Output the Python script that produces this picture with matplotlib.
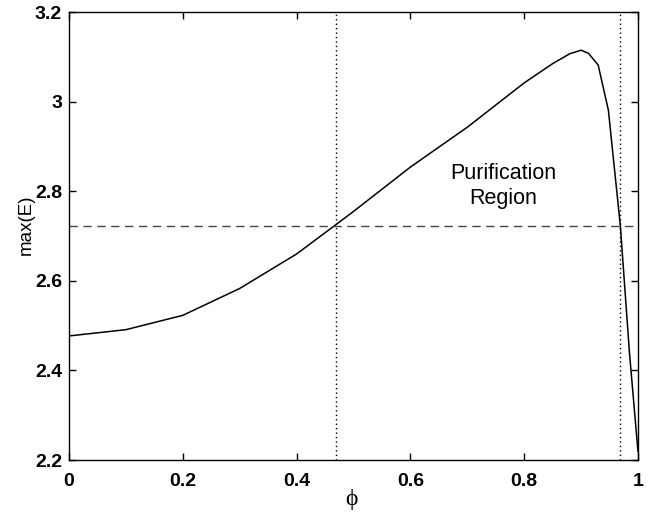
import numpy as np
import matplotlib
matplotlib.use("Agg")
import matplotlib.pyplot as plt

# --- DATA ---
phi = [0.0, 0.1, 0.2, 0.3, 0.4, 0.476, 0.5, 0.6, 0.7, 0.8, 0.85, 0.88,
       0.9, 0.913, 0.93, 0.948, 0.969, 0.985, 1.0]
max_e = [2.477, 2.491, 2.523, 2.583, 2.660, 2.732, 2.755, 2.854, 2.943, 3.042,
         3.085, 3.107, 3.115, 3.108, 3.082, 2.981, 2.723, 2.440, 2.219]

threshold = 2.723           # dashed horizontal line
region_bounds = [0.47, 0.968]  # dotted vertical lines

x_ticks = [0, 0.2, 0.4, 0.6, 0.8, 1]
x_labels = ["0", "0.2", "0.4", "0.6", "0.8", "1"]
y_ticks = [2.2, 2.4, 2.6, 2.8, 3.0, 3.2]
y_labels = ["2.2", "2.4", "2.6", "2.8", "3", "3.2"]

plt.rcParams['font.family'] = ['Liberation Sans', 'DejaVu Sans']

fig = plt.figure(figsize=(6.54, 5.16), dpi=100)
ax = fig.add_axes([0.1055, 0.1085, 0.87, 0.868])

ax.plot(phi, max_e, color='black', linewidth=1.1)
ax.axhline(threshold, color='#444444', linestyle=(0, (6, 4)), linewidth=1.0)
for xb in region_bounds:
    ax.axvline(xb, color='black', linestyle=(0, (1, 2.2)), linewidth=1.0)

ax.text(0.763, 2.812, "Purification\nRegion", ha='center', va='center',
        fontsize=15.5, linespacing=1.2)

ax.set_xlim(0, 1)
ax.set_ylim(2.2, 3.2)
ax.set_xticks(x_ticks)
ax.set_xticklabels(x_labels, fontsize=14, fontweight='bold')
ax.set_yticks(y_ticks)
ax.set_yticklabels(y_labels, fontsize=14, fontweight='bold')
ax.tick_params(direction='in', length=5, width=1, top=True, right=True)
ax.tick_params(axis='x', pad=9)
ax.tick_params(axis='y', pad=5)
for s in ax.spines.values():
    s.set_linewidth(1.0)

ax.set_xlabel("ϕ", fontsize=17, family=['Liberation Serif', 'DejaVu Serif'])
ax.xaxis.set_label_coords(0.497, -0.064)
ax.set_ylabel("max(E)", fontsize=13.5)
ax.yaxis.set_label_coords(-0.06, 0.525)

fig.savefig("out.png", dpi=100)
